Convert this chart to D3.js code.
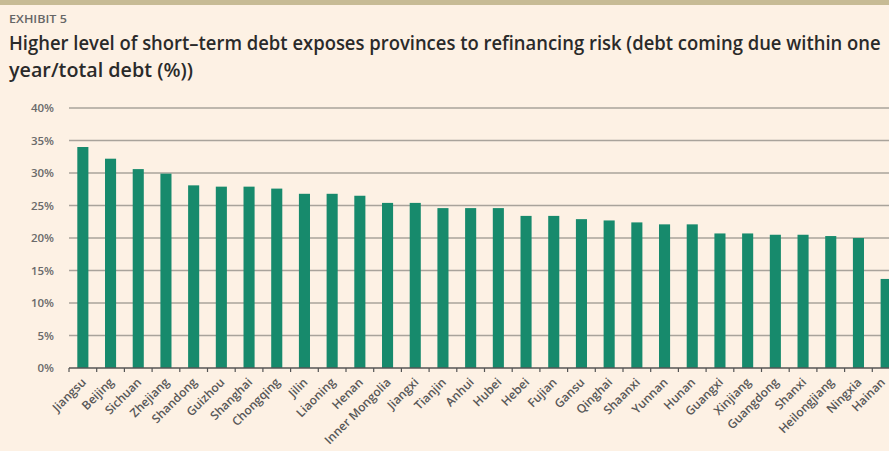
<!DOCTYPE html>
<html lang="en">
<head>
<meta charset="UTF-8">
<title>Short-term debt by province</title>
<script src="https://d3js.org/d3.v7.min.js"></script>
<style>
  body { margin: 0; background: #fdf1e4; }
  svg { display: block; }
</style>
</head>
<body>
<div id="chart"></div>
<script>
// provinces, in the order they are plotted
const provinces = ["Jiangsu", "Beijing", "Sichuan", "Zhejiang", "Shandong", "Guizhou", "Shanghai",
  "Chongqing", "Jilin", "Liaoning", "Henan", "Inner Mongolia", "Jiangxi", "Tianjin", "Anhui",
  "Hubei", "Hebei", "Fujian", "Gansu", "Qinghai", "Shaanxi", "Yunnan", "Hunan", "Guangxi",
  "Xinjiang", "Guangdong", "Shanxi", "Heilongjiang", "Ningxia", "Hainan"];

// debt coming due within one year / total debt (%)
const shortTermShare = [34.0, 32.2, 30.6, 29.9, 28.1, 27.9, 27.9, 27.6, 26.8, 26.8, 26.5,
  25.4, 25.4, 24.6, 24.6, 24.6, 23.4, 23.4, 22.9, 22.7, 22.4, 22.1, 22.1, 20.7, 20.7, 20.5,
  20.5, 20.3, 20.0, 13.7];

const yTicks = [0, 5, 10, 15, 20, 25, 30, 35, 40];

const width = 889, height = 451;
const font = "'Open Sans', 'DejaVu Sans', sans-serif";

const svg = d3.select("#chart").append("svg")
  .attr("width", width)
  .attr("height", height)
  .style("font-family", font);

svg.append("rect").attr("width", width).attr("height", height).attr("fill", "#fdf1e4");
svg.append("rect").attr("width", width).attr("height", 5).attr("fill", "#c7bb95");

// squeeze a text horizontally so it spans the given width (the source font is condensed)
function fitText(sel, x0, y0, target) {
  const w = sel.node().getComputedTextLength();
  sel.attr("transform", `translate(${x0},${y0}) scale(${target / w},1)`);
}

// header
svg.append("text")
  .attr("font-size", 11)
  .attr("font-weight", 600)
  .attr("fill", "#666")
  .text("EXHIBIT 5")
  .call(fitText, 9, 23, 58);

svg.append("text")
  .attr("font-size", 19.5)
  .attr("font-weight", 600)
  .attr("fill", "#2a2a2a")
  .text("Higher level of short\u2013term debt exposes provinces to refinancing risk (debt coming due within one")
  .call(fitText, 9, 50, 872);

svg.append("text")
  .attr("font-size", 19.5)
  .attr("font-weight", 600)
  .attr("fill", "#2a2a2a")
  .text("year/total debt (%))")
  .call(fitText, 9, 77, 184);

// scales
const x = d3.scaleBand()
  .domain(provinces)
  .range([69, 69 + 27.7 * provinces.length])
  .paddingInner(0.6)
  .paddingOuter(0.3);

const y = d3.scaleLinear()
  .domain([0, 40])
  .range([368, 108]);

// gridlines
svg.append("g")
  .selectAll("line")
  .data(yTicks.filter(d => d > 0))
  .join("line")
  .attr("x1", 69).attr("x2", width)
  .attr("y1", d => y(d)).attr("y2", d => y(d))
  .attr("stroke", "#a9a39b")
  .attr("stroke-width", 1.5);

// y labels
svg.append("g")
  .selectAll("text")
  .data(yTicks)
  .join("text")
  .attr("x", 54)
  .attr("y", d => y(d) + 4)
  .attr("text-anchor", "end")
  .attr("font-size", 11.5)
  .attr("font-weight", 600)
  .attr("fill", "#6a6a6a")
  .text(d => d + "%");

// bars
svg.append("g")
  .selectAll("rect")
  .data(provinces)
  .join("rect")
  .attr("x", d => x(d))
  .attr("width", x.bandwidth())
  .attr("y", (d, i) => y(shortTermShare[i]))
  .attr("height", (d, i) => y(0) - y(shortTermShare[i]))
  .attr("fill", "#178a6c");

// x axis
const xAxis = svg.append("g")
  .attr("transform", `translate(0,${y(0)})`);

xAxis.append("line")
  .attr("x1", 69).attr("x2", width)
  .attr("stroke", "#555").attr("stroke-width", 1.5);

const step = x.step();
xAxis.selectAll(".tick")
  .data(d3.range(provinces.length + 1))
  .join("line")
  .attr("class", "tick")
  .attr("x1", i => 69 + i * step).attr("x2", i => 69 + i * step)
  .attr("y1", 0).attr("y2", 4)
  .attr("stroke", "#555").attr("stroke-width", 1.2);

xAxis.selectAll(".lbl")
  .data(provinces)
  .join("text")
  .attr("class", "lbl")
  .attr("transform", d => `translate(${Math.min(x(d) + x.bandwidth() / 2 + 4, 886)},${15}) rotate(-45)`)
  .attr("text-anchor", "end")
  .attr("font-size", 12)
  .attr("font-weight", 600)
  .attr("fill", "#585858")
  .text(d => d);
</script>
</body>
</html>
